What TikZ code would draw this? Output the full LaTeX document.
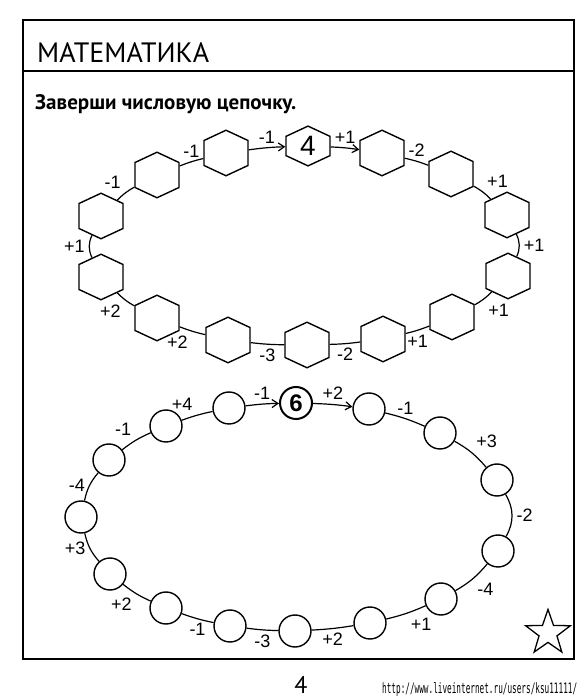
\documentclass[tikz,border=0pt]{standalone}
\usepackage{fontspec}
\setmainfont{PT Sans}
\newfontfamily\lblfont{Liberation Sans}
\newfontfamily\urlfont{DejaVu Sans Mono}
\usetikzlibrary{shapes.geometric, shapes.symbols, arrows.meta}

\begin{document}
\begin{tikzpicture}[x=1pt, y=1pt,
  hexa/.style={signal, signal to=north and south, signal pointer angle=130, draw, line width=1.4pt, fill=white, minimum width=44pt, minimum height=25pt, inner sep=0pt},
  ring/.style={circle, draw, line width=1.4pt, fill=white, minimum size=32pt, inner sep=0pt},
  link/.style={line width=1.2pt},
  arr/.style={link, -{Straight Barb[length=6pt, width=8pt]}},
  lbl/.style={font=\lblfont\fontsize{18}{18}\selectfont, inner sep=4pt}
]
  \useasboundingbox (0, 0) rectangle (582, 699);

  % frame and heading
  \draw[line width=1.8pt] (23, 40) rectangle (574, 679);
  \draw[line width=1.5pt] (23, 628) -- (574, 628);
  \node[anchor=base west, inner sep=0pt, font=\fontsize{28}{30}\selectfont] (title) at (37, 636) {МАТЕМАТИКА};
  \node[anchor=base west, inner sep=0pt, font=\bfseries\fontsize{21}{24}\selectfont] (task) at (35, 589) {Заверши числовую цепочку.};

  % hexagon chain
  \node[hexa, font=\lblfont\fontsize{28}{28}\selectfont] (hx0) at (308, 553) {4};
  \node[hexa] (hx1) at (382, 546) {};
  \node[hexa] (hx2) at (451, 525) {};
  \node[hexa] (hx3) at (507, 484) {};
  \node[hexa] (hx4) at (508, 423) {};
  \node[hexa] (hx5) at (452, 382) {};
  \node[hexa] (hx6) at (383, 360) {};
  \node[hexa] (hx7) at (307, 354) {};
  \node[hexa] (hx8) at (228, 359) {};
  \node[hexa] (hx9) at (157, 381) {};
  \node[hexa] (hx10) at (101, 422) {};
  \node[hexa] (hx11) at (101, 483) {};
  \node[hexa] (hx12) at (157, 524) {};
  \node[hexa] (hx13) at (226, 546) {};

  \draw[arr] (hx13) to[bend left=3] node[lbl, above] {-1} (hx0);
  \draw[arr] (hx0) to[bend left=3] node[lbl, above] {+1} (hx1);
  \draw[link] (hx1) to[bend left=4] node[lbl, above] {-2} (hx2);
  \draw[link] (hx2) to[bend left=8] node[lbl, above right] {+1} (hx3);
  \draw[link] (hx3) to[bend left=25] node[lbl, right] {+1} (hx4);
  \draw[link] (hx4) to[bend left=8] node[lbl, below right] {+1} (hx5);
  \draw[link] (hx5) to[bend left=4] node[lbl, below] {+1} (hx6);
  \draw[link] (hx6) to[bend left=3] node[lbl, below] {-2} (hx7);
  \draw[link] (hx7) to[bend left=3] node[lbl, below] {-3} (hx8);
  \draw[link] (hx8) to[bend left=4] node[lbl, below left] {+2} (hx9);
  \draw[link] (hx9) to[bend left=8] node[lbl, below left] {+2} (hx10);
  \draw[link] (hx10) to[bend left=25] node[lbl, left] {+1} (hx11);
  \draw[link] (hx11) to[bend left=8] node[lbl, above left] {-1} (hx12);
  \draw[link] (hx12) to[bend left=4] node[lbl, above] {-1} (hx13);

  % circle chain
  \node[ring, line width=2pt, font=\lblfont\bfseries\fontsize{24}{24}\selectfont] (cr0) at (296, 296) {6};
  \node[ring] (cr1) at (369, 290) {};
  \node[ring] (cr2) at (440, 266) {};
  \node[ring] (cr3) at (497, 219) {};
  \node[ring] (cr4) at (498, 148) {};
  \node[ring] (cr5) at (441, 100) {};
  \node[ring] (cr6) at (370, 76) {};
  \node[ring] (cr7) at (295, 68) {};
  \node[ring] (cr8) at (230, 73) {};
  \node[ring] (cr9) at (166, 91) {};
  \node[ring] (cr10) at (110, 125) {};
  \node[ring] (cr11) at (81, 182) {};
  \node[ring] (cr12) at (109, 239) {};
  \node[ring] (cr13) at (166, 273) {};
  \node[ring] (cr14) at (229, 291) {};

  \draw[arr] (cr14) to[bend left=3] node[lbl, above] {-1} (cr0);
  \draw[arr] (cr0) to[bend left=3] node[lbl, above] {+2} (cr1);
  \draw[link] (cr1) to[bend left=5] node[lbl, above] {-1} (cr2);
  \draw[link] (cr2) to[bend left=10] node[lbl, above right] {+3} (cr3);
  \draw[link] (cr3) to[bend left=30] node[lbl, right] {-2} (cr4);
  \draw[link] (cr4) to[bend left=10] node[lbl, below right] {-4} (cr5);
  \draw[link] (cr5) to[bend left=5] node[lbl, below right] {+1} (cr6);
  \draw[link] (cr6) to[bend left=3] node[lbl, below] {+2} (cr7);
  \draw[link] (cr7) to[bend left=3] node[lbl, below] {-3} (cr8);
  \draw[link] (cr8) to[bend left=4] node[lbl, below] {-1} (cr9);
  \draw[link] (cr9) to[bend left=7] node[lbl, below left] {+2} (cr10);
  \draw[link] (cr10) to[bend left=14] node[lbl, left] {+3} (cr11);
  \draw[link] (cr11) to[bend left=14] node[lbl, left] {-4} (cr12);
  \draw[link] (cr12) to[bend left=7] node[lbl, above left] {-1} (cr13);
  \draw[link] (cr13) to[bend left=4] node[lbl, above left] {+4} (cr14);

  % corner star, page number, address
  \node[star, star points=5, star point ratio=2.5, draw, line width=1.3pt, minimum size=47pt, inner sep=0pt] (mark) at (548, 66) {};
  \node[font=\fontsize{24}{24}\selectfont, inner sep=0pt] (page) at (301, 14) {4};
  \node[anchor=base west, inner sep=0pt] (site) at (382, 6) {\resizebox{195pt}{11pt}{\urlfont http://www.liveinternet.ru/users/ksu11111/}};
\end{tikzpicture}
\end{document}
